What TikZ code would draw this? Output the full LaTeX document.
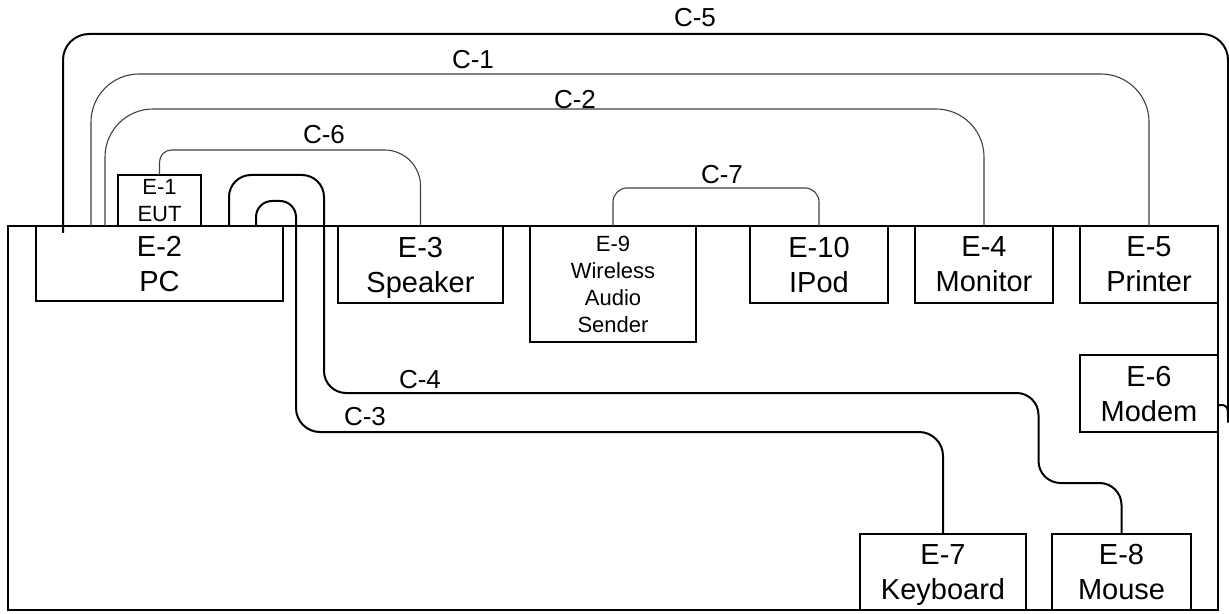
\documentclass[tikz,border=0pt]{standalone}
\usepackage{fontspec}
\setmainfont{Liberation Sans}
\usetikzlibrary{positioning,calc}

\begin{document}
\begin{tikzpicture}[x=0.5pt,y=-0.5pt,node distance=13.5pt]
\tikzstyle{dev}=[draw,line width=0.9pt,align=center,inner sep=0pt,outer sep=0pt,text depth=0pt,minimum width=69pt,minimum height=38.5pt,font=\fontsize{14.5}{17.5}\selectfont]
\tikzstyle{sdev}=[dev,font=\fontsize{11}{13.5}\selectfont]
\tikzstyle{cab}=[line width=1pt]
\tikzstyle{tcab}=[line width=0.55pt,black!75]
\tikzstyle{lbl}=[font=\fontsize{13}{15}\selectfont,inner sep=0pt]
\useasboundingbox (0,0) rectangle (1229,614);
% table outline
\node[draw,line width=0.9pt,inner sep=0pt,outer sep=0pt,minimum width=605pt,minimum height=192pt,anchor=north west] (desk) at (8,226) {};
% equipment
\node[dev,minimum width=123.5pt,minimum height=37.5pt,below right=0pt and 14pt of desk.north west] (pc) {E-2\\PC};
\node[sdev,minimum width=41.5pt,minimum height=25.5pt,above right=0pt and 41pt of pc.north west] (eut) {E-1\\EUT};
\node[dev,minimum width=82.5pt,below right=0pt and 27.5pt of pc.north east] (speaker) {E-3\\Speaker};
\node[sdev,minimum width=83pt,minimum height=58pt,below right=0pt and 13.5pt of speaker.north east] (sender) {E-9\\Wireless\\Audio\\Sender};
\node[dev,below right=0pt and 27pt of sender.north east] (ipod) {E-10\\IPod};
\node[dev,below right=0pt and 13.5pt of ipod.north east] (monitor) {E-4\\Monitor};
\node[dev,below right=0pt and 13.5pt of monitor.north east] (printer) {E-5\\Printer};
\node[dev,below=26pt of printer] (modem) {E-6\\Modem};
\node[dev,minimum width=83pt,minimum height=38pt,above right=0pt and 426pt of desk.south west] (keyboard) {E-7\\Keyboard};
\node[dev,minimum width=69.5pt,minimum height=38pt,above right=0pt and 13pt of keyboard.south east] (mouse) {E-8\\Mouse};
% cables
\draw[cab,rounded corners=13pt] ($(pc.north west)+(27,7)$) |- ($(printer.north east)+(10,-192)$) -- ($(modem.east)+(10,3)$) [sharp corners] .. controls ($(modem.east)+(10,11.5)$) .. ($(modem.east)+(0,11.5)$);
\draw[tcab,rounded corners=24pt] ($(pc.north west)+(55,0)$) |- ($(printer.north)+(0,-152)$) -- (printer.north);
\draw[tcab,rounded corners=24pt] ($(pc.north west)+(69,0)$) |- ($(monitor.north)+(0,-117)$) -- (monitor.north);
\draw[tcab,rounded corners=6pt] (eut.north) |- ($(speaker.north)+(-60,-76)$) [rounded corners=18pt] -| (speaker.north);
\draw[tcab,rounded corners=7pt] (sender.north) |- ($(ipod.north)+(0,-38)$) -- (ipod.north);
\draw[cab,rounded corners=8pt] ($(pc.north west)+(220,0)$) |- ($(pc.north west)+(260,-25)$) [rounded corners=12pt] |- ($(keyboard.north)+(0,-102)$) -- (keyboard.north);
\draw[cab,rounded corners=11pt] ($(pc.north west)+(193,0)$) |- ($(pc.north west)+(288,-51)$) |- ($(mouse.north)+(-83,-141)$) |- ($(mouse.north)+(0,-51)$) -- (mouse.north);
% cable labels
\node[lbl] (c5) at (695,18) {C-5};
\node[lbl] (c1) at (473,60) {C-1};
\node[lbl] (c2) at (575,100) {C-2};
\node[lbl] (c6) at (324,135) {C-6};
\node[lbl] (c7) at (722,175) {C-7};
\node[lbl] (c4) at (420,380) {C-4};
\node[lbl] (c3) at (365,417) {C-3};
\end{tikzpicture}
\end{document}
